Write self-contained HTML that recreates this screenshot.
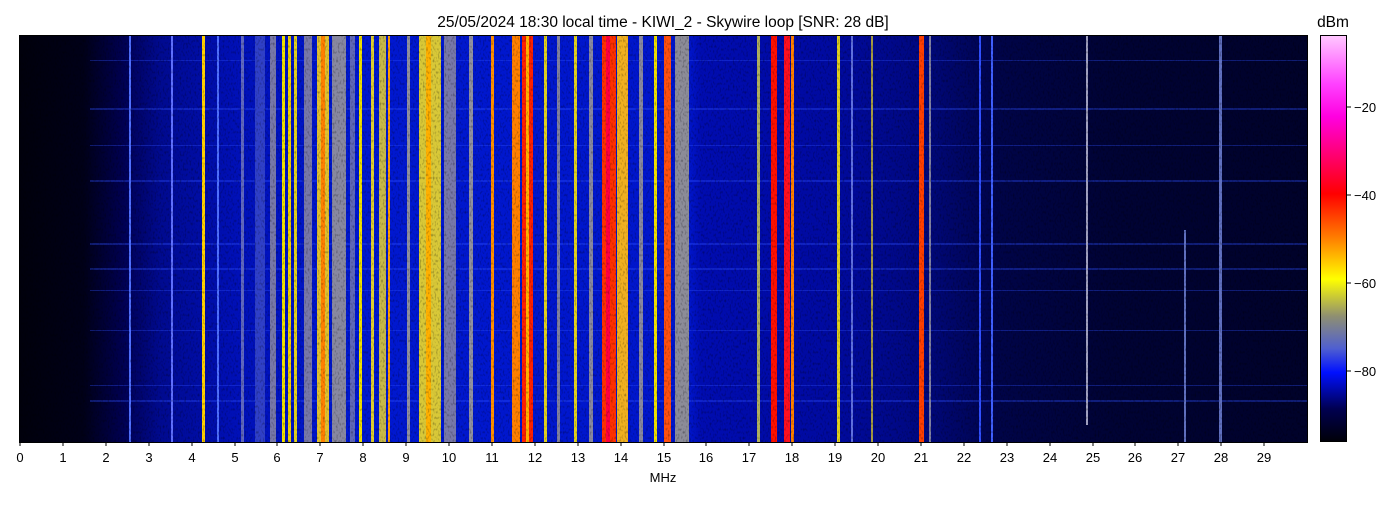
<!DOCTYPE html>
<html><head><meta charset="utf-8"><style>
body{margin:0;background:#fff;width:1400px;height:500px;overflow:hidden;font-family:"Liberation Sans","DejaVu Sans",sans-serif}
</style></head><body>
<svg width="1400" height="500" xmlns="http://www.w3.org/2000/svg" font-family="Liberation Sans, DejaVu Sans, sans-serif">
<defs>
<linearGradient id="bg" x1="0" x2="1" y1="0" y2="0">
<stop offset="0" stop-color="#00000c"/>
<stop offset="0.05" stop-color="#000018"/>
<stop offset="0.08" stop-color="#000050"/>
<stop offset="0.11" stop-color="#000a90"/>
<stop offset="0.17" stop-color="#0010b8"/>
<stop offset="0.25" stop-color="#0018d0"/>
<stop offset="0.52" stop-color="#0016cc"/>
<stop offset="0.53" stop-color="#000cb0"/>
<stop offset="0.63" stop-color="#000aa0"/>
<stop offset="0.70" stop-color="#000880"/>
<stop offset="0.76" stop-color="#000448"/>
<stop offset="0.85" stop-color="#000334"/>
<stop offset="1" stop-color="#00022a"/>
</linearGradient>
<linearGradient id="cb" x1="0" x2="0" y1="0" y2="1">
<stop offset="0" stop-color="#ffc8ff"/>
<stop offset="0.12" stop-color="#ff40ff"/>
<stop offset="0.2" stop-color="#ff00e0"/>
<stop offset="0.39" stop-color="#ff0000"/>
<stop offset="0.5" stop-color="#ff8000"/>
<stop offset="0.6" stop-color="#ffff00"/>
<stop offset="0.69" stop-color="#909070"/>
<stop offset="0.77" stop-color="#5060d0"/>
<stop offset="0.83" stop-color="#0010ff"/>
<stop offset="0.92" stop-color="#000050"/>
<stop offset="1" stop-color="#000008"/>
</linearGradient>
<filter id="n" filterUnits="userSpaceOnUse" x="19" y="35" width="1288" height="407"><feTurbulence type="fractalNoise" baseFrequency="0.6 0.35" numOctaves="1" seed="3"/><feColorMatrix values="0 0 0 0 0  0 0 0 0 0  0 0 0 0 0  0 0 0 1.1 -0.55"/></filter>
</defs>
<rect x="19" y="35" width="1288" height="407" fill="url(#bg)"/>
<g opacity="0.35" fill="#3050ff">
<rect x="90" y="108" width="1217" height="2"/><rect x="90" y="180" width="1217" height="2"/>
<rect x="90" y="243" width="1217" height="2"/><rect x="90" y="268" width="1217" height="2"/>
<rect x="90" y="60" width="1217" height="1"/><rect x="90" y="145" width="1217" height="1"/>
<rect x="90" y="330" width="1217" height="1"/><rect x="90" y="400" width="1217" height="2"/>
<rect x="90" y="385" width="1217" height="1"/><rect x="90" y="290" width="1217" height="1"/>
</g>
<g>
<rect x="129" y="35" width="2" height="407" fill="#5070ff"/>
<rect x="171" y="35" width="2" height="407" fill="#6070ff"/>
<rect x="202" y="35" width="3" height="407" fill="#ffd000"/>
<rect x="217" y="35" width="2" height="407" fill="#5070ff"/>
<rect x="241" y="35" width="3" height="407" fill="#6068c0"/>
<rect x="255" y="35" width="10" height="407" fill="#3040c8"/>
<rect x="270" y="35" width="6" height="407" fill="#7878a8"/>
<rect x="282" y="35" width="3" height="407" fill="#f0e000"/>
<rect x="288" y="35" width="3" height="407" fill="#f0d000"/>
<rect x="294" y="35" width="3" height="407" fill="#e0d020"/>
<rect x="304" y="35" width="8" height="407" fill="#7878a8"/>
<rect x="317" y="35" width="12" height="407" fill="#e0c030"/>
<rect x="321" y="35" width="4" height="407" fill="#ff8000"/>
<rect x="332" y="35" width="14" height="407" fill="#8888a0"/>
<rect x="350" y="35" width="5" height="407" fill="#6068b8"/>
<rect x="359" y="35" width="3" height="407" fill="#f0e000"/>
<rect x="371" y="35" width="3" height="407" fill="#e0d030"/>
<rect x="379" y="35" width="7" height="407" fill="#c8b848"/>
<rect x="388" y="35" width="2" height="407" fill="#ffa000"/>
<rect x="407" y="35" width="3" height="407" fill="#9090a0"/>
<rect x="419" y="35" width="22" height="407" fill="#d8c838"/>
<rect x="426" y="35" width="5" height="407" fill="#ffb000"/>
<rect x="444" y="35" width="12" height="407" fill="#7878a8"/>
<rect x="469" y="35" width="4" height="407" fill="#9090a0"/>
<rect x="491" y="35" width="3" height="407" fill="#ff9000"/>
<rect x="512" y="35" width="8" height="407" fill="#ff8000"/>
<rect x="522" y="35" width="11" height="407" fill="#ff2000"/>
<rect x="526" y="35" width="3" height="407" fill="#ffb000"/>
<rect x="544" y="35" width="3" height="407" fill="#e0d020"/>
<rect x="557" y="35" width="3" height="407" fill="#8080a0"/>
<rect x="574" y="35" width="3" height="407" fill="#e0d020"/>
<rect x="589" y="35" width="4" height="407" fill="#8888a0"/>
<rect x="602" y="35" width="14" height="407" fill="#ff3000"/>
<rect x="606" y="35" width="4" height="407" fill="#ff0040"/>
<rect x="617" y="35" width="11" height="407" fill="#f0b020"/>
<rect x="639" y="35" width="4" height="407" fill="#8888a0"/>
<rect x="654" y="35" width="3" height="407" fill="#f0e000"/>
<rect x="664" y="35" width="7" height="407" fill="#ff5010"/>
<rect x="675" y="35" width="14" height="407" fill="#8c8c98"/>
<rect x="757" y="35" width="3" height="407" fill="#b0b060"/>
<rect x="771" y="35" width="6" height="407" fill="#ff1000"/>
<rect x="784" y="35" width="6" height="407" fill="#ff1020"/>
<rect x="791" y="35" width="3" height="407" fill="#ff8000"/>
<rect x="837" y="35" width="3" height="407" fill="#e0d020"/>
<rect x="851" y="35" width="2" height="407" fill="#6070e0"/>
<rect x="871" y="35" width="2" height="407" fill="#d0c030" opacity="0.8"/>
<rect x="919" y="35" width="5" height="407" fill="#ff4000"/>
<rect x="929" y="35" width="2" height="407" fill="#8080a0"/>
<rect x="979" y="35" width="2" height="407" fill="#3050ff"/>
<rect x="991" y="35" width="2" height="407" fill="#4060ff"/>
<rect x="1086" y="35" width="2" height="390" fill="#a0a0c0"/>
<rect x="1184" y="230" width="2" height="212" fill="#6070c0"/>
<rect x="1219" y="35" width="3" height="407" fill="#6070c0"/>
</g>
<rect x="19" y="35" width="1288" height="407" filter="url(#n)" opacity="0.9"/>
<rect x="19.5" y="35.5" width="1288" height="407" fill="none" stroke="#000" stroke-width="1"/>
<g stroke="#000" stroke-width="1">
<line x1="20" y1="442" x2="20" y2="446"/><line x1="63" y1="442" x2="63" y2="446"/><line x1="106" y1="442" x2="106" y2="446"/><line x1="149" y1="442" x2="149" y2="446"/><line x1="192" y1="442" x2="192" y2="446"/><line x1="235" y1="442" x2="235" y2="446"/><line x1="277" y1="442" x2="277" y2="446"/><line x1="320" y1="442" x2="320" y2="446"/><line x1="363" y1="442" x2="363" y2="446"/><line x1="406" y1="442" x2="406" y2="446"/><line x1="449" y1="442" x2="449" y2="446"/><line x1="492" y1="442" x2="492" y2="446"/><line x1="535" y1="442" x2="535" y2="446"/><line x1="578" y1="442" x2="578" y2="446"/><line x1="621" y1="442" x2="621" y2="446"/><line x1="664" y1="442" x2="664" y2="446"/><line x1="706" y1="442" x2="706" y2="446"/><line x1="749" y1="442" x2="749" y2="446"/><line x1="792" y1="442" x2="792" y2="446"/><line x1="835" y1="442" x2="835" y2="446"/><line x1="878" y1="442" x2="878" y2="446"/><line x1="921" y1="442" x2="921" y2="446"/><line x1="964" y1="442" x2="964" y2="446"/><line x1="1007" y1="442" x2="1007" y2="446"/><line x1="1050" y1="442" x2="1050" y2="446"/><line x1="1093" y1="442" x2="1093" y2="446"/><line x1="1135" y1="442" x2="1135" y2="446"/><line x1="1178" y1="442" x2="1178" y2="446"/><line x1="1221" y1="442" x2="1221" y2="446"/><line x1="1264" y1="442" x2="1264" y2="446"/>
</g>
<g font-size="13" text-anchor="middle" fill="#000">
<text x="20" y="462">0</text><text x="63" y="462">1</text><text x="106" y="462">2</text><text x="149" y="462">3</text><text x="192" y="462">4</text><text x="235" y="462">5</text><text x="277" y="462">6</text><text x="320" y="462">7</text><text x="363" y="462">8</text><text x="406" y="462">9</text><text x="449" y="462">10</text><text x="492" y="462">11</text><text x="535" y="462">12</text><text x="578" y="462">13</text><text x="621" y="462">14</text><text x="664" y="462">15</text><text x="706" y="462">16</text><text x="749" y="462">17</text><text x="792" y="462">18</text><text x="835" y="462">19</text><text x="878" y="462">20</text><text x="921" y="462">21</text><text x="964" y="462">22</text><text x="1007" y="462">23</text><text x="1050" y="462">24</text><text x="1093" y="462">25</text><text x="1135" y="462">26</text><text x="1178" y="462">27</text><text x="1221" y="462">28</text><text x="1264" y="462">29</text>
<text x="663" y="482">MHz</text>
<text x="663" y="27" font-size="15.5">25/05/2024 18:30 local time - KIWI_2 - Skywire loop [SNR: 28 dB]</text>
<text x="1333" y="27" font-size="15.5">dBm</text>
</g>
<rect x="1320.5" y="35.5" width="26" height="406" fill="url(#cb)" stroke="#000" stroke-width="1"/>
<g stroke="#000"><line x1="1347" y1="107" x2="1351" y2="107"/><line x1="1347" y1="195" x2="1351" y2="195"/><line x1="1347" y1="283" x2="1351" y2="283"/><line x1="1347" y1="371" x2="1351" y2="371"/></g>
<g font-size="13" fill="#000"><text x="1354" y="112">−20</text><text x="1354" y="200">−40</text><text x="1354" y="288">−60</text><text x="1354" y="376">−80</text></g>
</svg>
</body></html>
